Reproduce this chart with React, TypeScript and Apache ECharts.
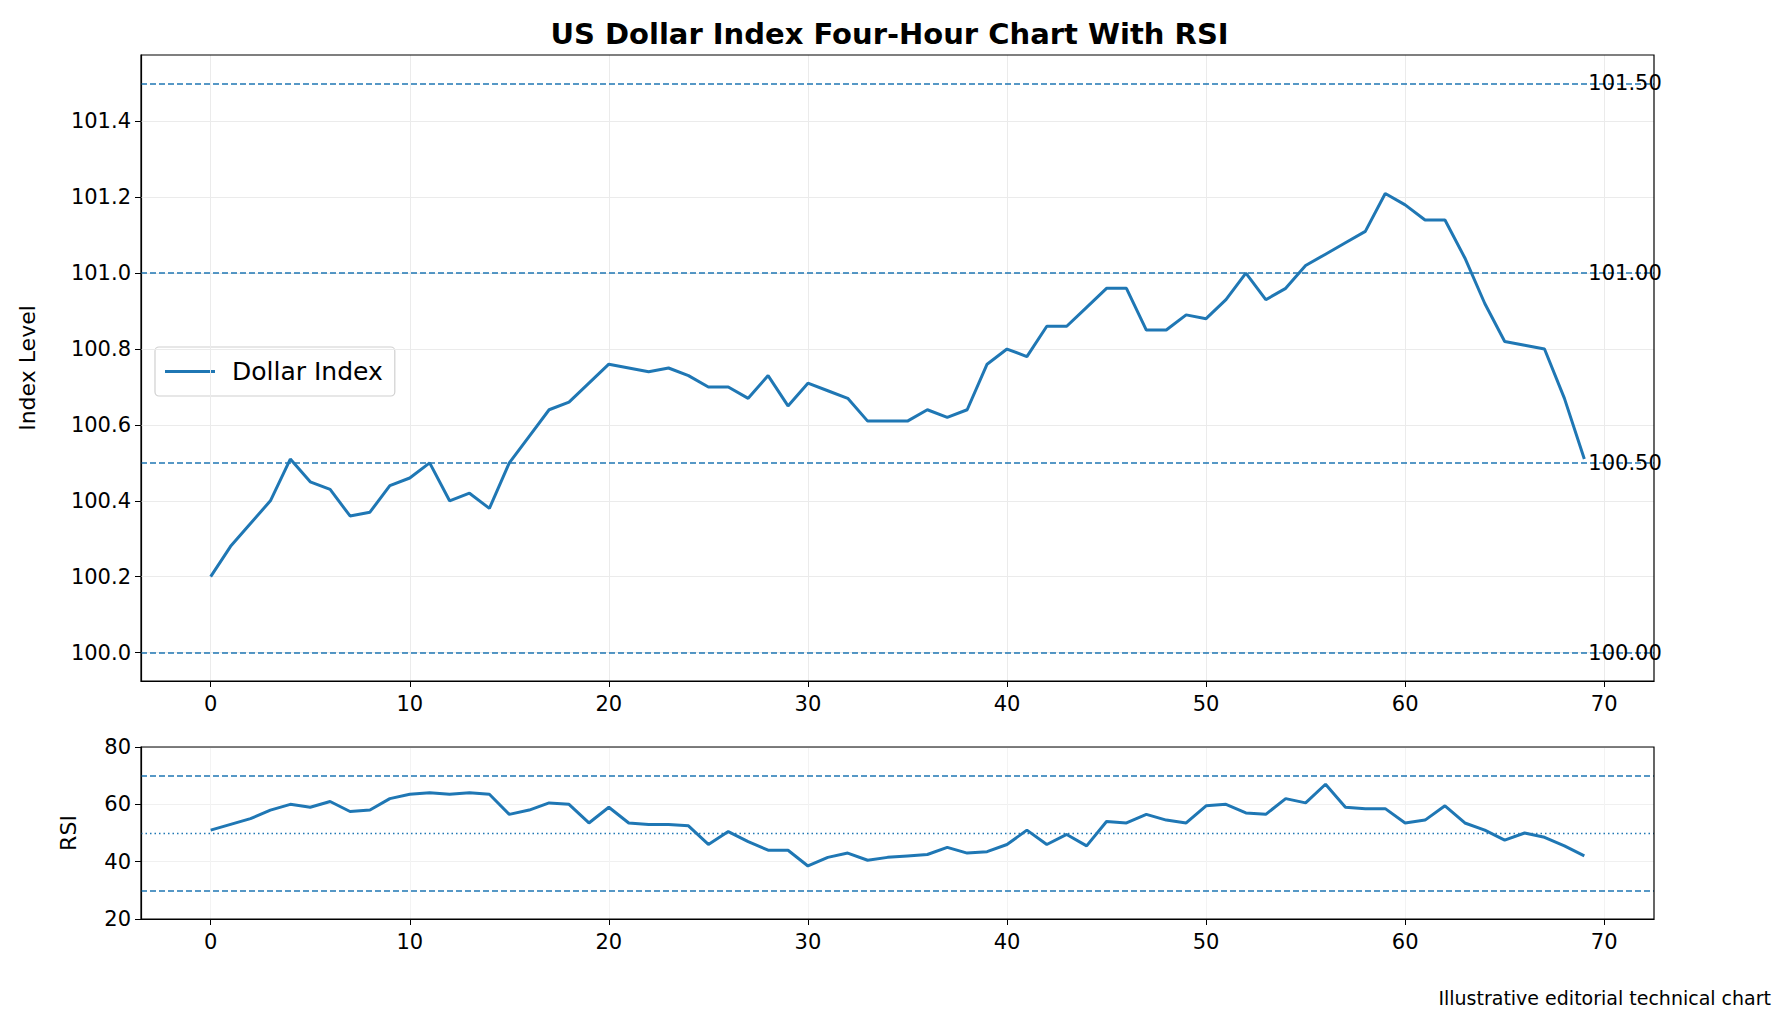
import React, { useEffect, useRef } from "react";
import * as echarts from "echarts";

const indexValues = [
  100.2, 100.28, 100.34, 100.4, 100.51, 100.45, 100.43, 100.36, 100.37, 100.44,
  100.46, 100.5, 100.4, 100.42, 100.38, 100.5, 100.57, 100.64, 100.66, 100.71,
  100.76, 100.75, 100.74, 100.75, 100.73, 100.7, 100.7, 100.67, 100.73, 100.65,
  100.71, 100.69, 100.67, 100.61, 100.61, 100.61, 100.64, 100.62, 100.64, 100.76,
  100.8, 100.78, 100.86, 100.86, 100.91, 100.96, 100.96, 100.85, 100.85, 100.89,
  100.88, 100.93, 101.0, 100.93, 100.96, 101.02, 101.05, 101.08, 101.11, 101.21,
  101.18, 101.14, 101.14, 101.04, 100.92, 100.82, 100.81, 100.8, 100.67, 100.51,
];

const rsiValues = [
  51, 53, 55, 58, 60, 59, 61, 57.5, 58, 62, 63.5, 64, 63.5, 64, 63.5, 56.5, 58,
  60.5, 60, 53.5, 59, 53.5, 53, 53, 52.5, 46, 50.5, 47, 44, 44, 38.5, 41.5, 43,
  40.5, 41.5, 42, 42.5, 45, 43, 43.5, 46, 51, 46, 49.5, 45.5, 54, 53.5, 56.5,
  54.5, 53.5, 59.5, 60, 57, 56.5, 62, 60.5, 67, 59, 58.5, 58.5, 53.5, 54.5, 59.5,
  53.5, 51, 47.5, 50, 48.5, 45.5, 42,
];

const levels = [100.0, 100.5, 101.0, 101.5];
const indexTicks = [100.0, 100.2, 100.4, 100.6, 100.8, 101.0, 101.2, 101.4];
const xTicks = [0, 10, 20, 30, 40, 50, 60, 70];
const rsiBands = [30, 70];

const BLUE = "#1f77b4";
const FONT = "DejaVu Sans";

const App: React.FC = () => {
  const chartRef = useRef<HTMLDivElement>(null);

  useEffect(() => {
    document.body.style.margin = "0";
    if (!chartRef.current) return;
    const chart = echarts.init(chartRef.current, undefined, { renderer: "svg" });

    const pts = indexValues.map((v, i) => [i, v]);
    const rsiPts = rsiValues.map((v, i) => [i, v]);
    const grey = { color: "#ebebeb", width: 1, type: "solid" as const };

    const xAxisBase = {
      type: "value" as const,
      min: -3.5,
      max: 72.5,
      axisLine: { onZero: false, lineStyle: { color: "#000", width: 1.2 } },
      axisTick: { customValues: xTicks, length: 6, lineStyle: { color: "#000" } },
      axisLabel: { customValues: xTicks, color: "#000", fontSize: 21, fontFamily: FONT, margin: 12 },
      splitLine: { show: false },
    };

    const option = {
      animation: false,
      backgroundColor: "#fff",
      textStyle: { fontFamily: FONT },
      title: {
        text: "US Dollar Index Four-Hour Chart With RSI",
        left: "center",
        top: 14,
        textStyle: { fontSize: 29, fontWeight: "bold", color: "#000", fontFamily: FONT },
      },
      graphic: [
        {
          type: "text",
          right: 8,
          bottom: 10,
          style: { text: "Illustrative editorial technical chart", fontSize: 19, fill: "#000", fontFamily: FONT },
        },
        { type: "rect", shape: { x: 141, y: 55, width: 1513, height: 626 }, style: { fill: "none", stroke: "#000", lineWidth: 1.2 }, silent: true, z: 100 },
        { type: "rect", shape: { x: 141, y: 747, width: 1513, height: 172 }, style: { fill: "none", stroke: "#000", lineWidth: 1.2 }, silent: true, z: 100 },
      ],
      legend: {
        data: ["Dollar Index"],
        left: 155,
        top: 347,
        orient: "vertical",
        backgroundColor: "#fff",
        borderColor: "#d0d0d0",
        borderWidth: 1.2,
        borderRadius: 4,
        padding: [12, 12, 12, 10],
        itemWidth: 50,
        itemHeight: 3,
        icon: "rect",
        textStyle: { fontSize: 25, color: "#000", fontFamily: FONT, padding: [0, 0, 0, 12] },
      },
      grid: [
        { left: 141, top: 55, width: 1513, height: 626, outerBoundsMode: "none", containLabel: false },
        { left: 141, top: 747, width: 1513, height: 172, outerBoundsMode: "none", containLabel: false },
      ],
      xAxis: [
        { ...xAxisBase, gridIndex: 0 },
        { ...xAxisBase, gridIndex: 1 },
      ],
      yAxis: [
        {
          type: "value",
          gridIndex: 0,
          min: 99.925,
          max: 101.575,
          name: "Index Level",
          nameLocation: "middle",
          nameGap: 103,
          nameTextStyle: { fontSize: 22, color: "#000", fontFamily: FONT },
          axisLine: { show: true, onZero: false, lineStyle: { color: "#000", width: 1.2 } },
          axisTick: { show: true, customValues: indexTicks, length: 6, lineStyle: { color: "#000" } },
          axisLabel: {
            customValues: indexTicks,
            color: "#000",
            fontSize: 21,
            fontFamily: FONT,
            margin: 10,
            formatter: (v: number) => v.toFixed(1),
          },
          splitLine: { show: false },
        },
        {
          type: "value",
          gridIndex: 1,
          min: 20,
          max: 80,
          interval: 20,
          name: "RSI",
          nameLocation: "middle",
          nameGap: 62,
          nameTextStyle: { fontSize: 22, color: "#000", fontFamily: FONT },
          axisLine: { show: true, onZero: false, lineStyle: { color: "#000", width: 1.2 } },
          axisTick: { show: true, length: 6, lineStyle: { color: "#000" } },
          axisLabel: { color: "#000", fontSize: 21, fontFamily: FONT, margin: 10 },
          splitLine: { show: true, lineStyle: { color: "#f0f0f0" } },
        },
      ],
      series: [
        {
          name: "grid-main",
          type: "line",
          xAxisIndex: 0,
          yAxisIndex: 0,
          data: [],
          silent: true,
          markLine: {
            silent: true,
            symbol: "none",
            label: { show: false },
            lineStyle: grey,
            data: [
              ...indexTicks.map((v) => ({ yAxis: v })),
              ...xTicks.map((v) => ({ xAxis: v })),
            ],
          },
        },
        {
          name: "grid-rsi",
          type: "line",
          xAxisIndex: 1,
          yAxisIndex: 1,
          data: [],
          silent: true,
          markLine: {
            silent: true,
            symbol: "none",
            label: { show: false },
            lineStyle: { ...grey, color: "#f3f3f3" },
            data: xTicks.map((v) => ({ xAxis: v })),
          },
        },
        {
          name: "Dollar Index",
          type: "line",
          xAxisIndex: 0,
          yAxisIndex: 0,
          data: pts,
          showSymbol: false,
          lineStyle: { color: BLUE, width: 3 },
          itemStyle: { color: BLUE },
          z: 5,
          markLine: {
            silent: true,
            symbol: "none",
            label: { show: false },
            lineStyle: { color: BLUE, width: 1.6, type: [6, 3] },
            data: levels.map((v) => ({ yAxis: v })),
          },
          markPoint: {
            silent: true,
            symbol: "circle",
            symbolSize: 0,
            data: levels.map((v) => ({
              coord: [69.2, v],
              label: {
                show: true,
                position: "right",
                distance: 0,
                formatter: v.toFixed(2),
                color: "#000",
                fontSize: 21,
                fontFamily: FONT,
              },
            })),
          },
        },
        {
          name: "RSI",
          type: "line",
          xAxisIndex: 1,
          yAxisIndex: 1,
          data: rsiPts,
          showSymbol: false,
          lineStyle: { color: BLUE, width: 3 },
          z: 5,
          markLine: {
            silent: true,
            symbol: "none",
            label: { show: false },
            data: [
              ...rsiBands.map((v) => ({ yAxis: v, lineStyle: { color: BLUE, width: 1.6, type: [6, 3] } })),
              { yAxis: 50, lineStyle: { color: BLUE, width: 1.4, type: [1.5, 3] } },
            ],
          },
        },
      ],
    };

    chart.setOption(option as any);
    return () => chart.dispose();
  }, []);

  return <div ref={chartRef} style={{ width: 1779, height: 1017 }} />;
};

export default App;
